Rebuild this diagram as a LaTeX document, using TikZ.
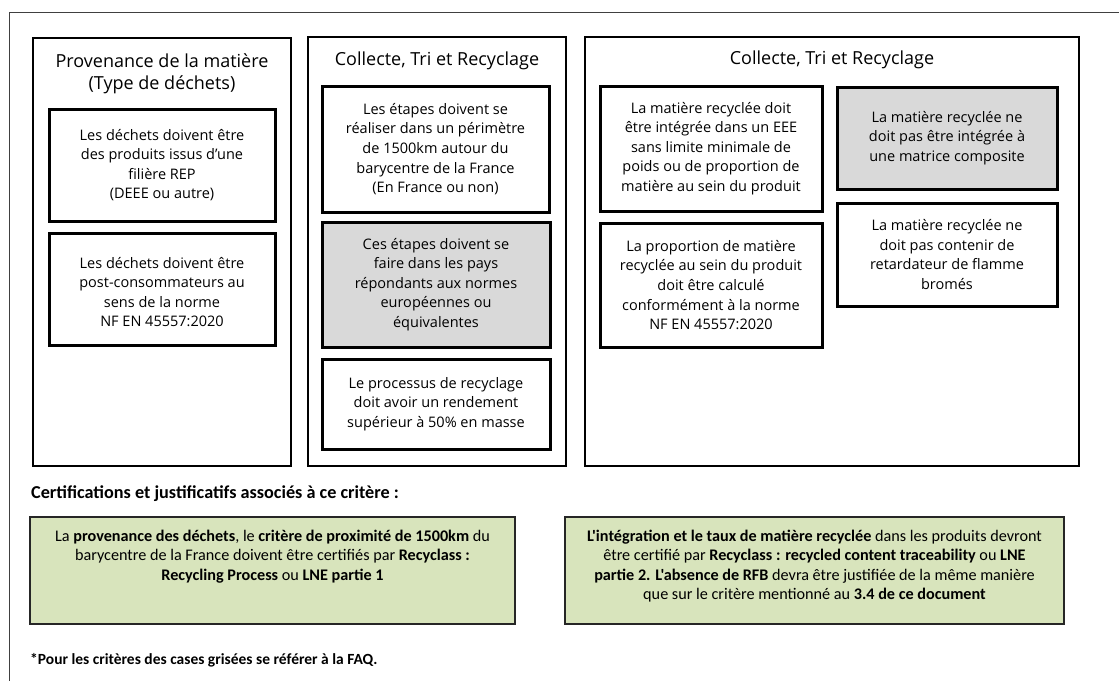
\documentclass[tikz,border=0pt]{standalone}
\usepackage{fontspec}
\setmainfont{Open Sans}
\newfontfamily\calib{Carlito}
\definecolor{boxgray}{HTML}{D9D9D9}
\definecolor{boxgreen}{HTML}{D8E4BC}
\definecolor{framegray}{HTML}{404040}
\begin{document}
\begin{tikzpicture}[x=1pt,y=-1pt,
  colbox/.style={draw=black,line width=2.6pt,rectangle,inner sep=0pt},
  critbox/.style={draw=black,line width=3pt,rectangle,inner sep=0pt},
  graybox/.style={critbox,fill=boxgray},
  greenbox/.style={draw=black!85,line width=2.8pt,rectangle,inner sep=0pt,fill=boxgreen},
  crittext/.style={align=center,inner sep=0pt,font=\fontsize{14.5}{19.6}\selectfont},
  coltitle/.style={align=center,inner sep=0pt,font=\fontsize{18}{22}\selectfont},
  greentext/.style={align=center,inner sep=0pt,anchor=north,font=\calib\fontsize{16.2}{19.3}\selectfont},
  heading/.style={anchor=west,inner sep=0pt,font=\calib\bfseries\fontsize{18.2}{20}\selectfont},
  footnote/.style={anchor=west,inner sep=0pt,font=\calib\bfseries\fontsize{15.5}{18}\selectfont}
]
\useasboundingbox (0,0) rectangle (1119,681);
% outer frame (partial)
\coordinate (fTL) at (9,12);
\coordinate (fTR) at (1119,12);
\coordinate (fBL) at (9,681);
\draw[framegray,line width=1pt] (fTR) -- (fTL) -- (fBL);

% Column 1
\node[colbox,minimum width=258,minimum height=428] (col1) at (162,252) {};
\node[coltitle] (col1t) at (162,74) {Provenance de la matière\\(Type de déchets)};
\node[critbox,minimum width=226,minimum height=112] (c1a) at (162,165) {};
\node[crittext] (c1at) at (c1a) {Les déchets doivent être\\des produits issus d'une\\filière REP\\(DEEE ou autre)};
\node[critbox,minimum width=226,minimum height=112] (c1b) at (162,289) {};
\node[crittext] (c1bt) at (162,292) {Les déchets doivent être\\post-consommateurs au\\sens de la norme\\NF EN 45557:2020};

% Column 2
\node[colbox,minimum width=258,minimum height=429] (col2) at (437,251.5) {};
\node[coltitle] (col2t) at (437,61) {Collecte, Tri et Recyclage};
\node[critbox,minimum width=227,minimum height=126] (c2a) at (435.5,149) {};
\node[crittext] (c2at) at (c2a) {Les étapes doivent se\\réaliser dans un périmètre\\de 1500km autour du\\barycentre de la France\\(En France ou non)};
\node[graybox,minimum width=228,minimum height=125] (c2b) at (436,284.5) {};
\node[crittext] (c2bt) at (c2b) {Ces étapes doivent se\\faire dans les pays\\répondants aux normes\\européennes ou\\équivalentes};
\node[critbox,minimum width=228,minimum height=90] (c2c) at (436,404) {};
\node[crittext] (c2ct) at (c2c) {Le processus de recyclage\\doit avoir un rendement\\supérieur à 50\% en masse};

% Column 3
\node[colbox,minimum width=494,minimum height=429] (col3) at (832,251.5) {};
\node[coltitle] (col3t) at (832,60) {Collecte, Tri et Recyclage};
\node[critbox,minimum width=222,minimum height=125] (c3a) at (711,148.5) {};
\node[crittext] (c3at) at (c3a) {La matière recyclée doit\\être intégrée dans un EEE\\sans limite minimale de\\poids ou de proportion de\\matière au sein du produit};
\node[critbox,minimum width=222,minimum height=124] (c3b) at (711,285) {};
\node[crittext] (c3bt) at (c3b) {La proportion de matière\\recyclée au sein du produit\\doit être calculé\\conformément à la norme\\NF EN 45557:2020};
\node[graybox,minimum width=220,minimum height=102] (c3c) at (947,138) {};
\node[crittext] (c3ct) at (c3c) {La matière recyclée ne\\doit pas être intégrée à\\une matrice composite};
\node[critbox,minimum width=220,minimum height=103] (c3d) at (947,254.5) {};
\node[crittext] (c3dt) at (c3d) {La matière recyclée ne\\doit pas contenir de\\retardateur de flamme\\bromés};

% Certifications
\node[heading] (cert) at (31,494) {Certifications et justificatifs associés à ce critère :};
\node[greenbox,minimum width=485,minimum height=107] (g1) at (272.5,570.5) {};
\node[greentext] (g1t) at (272.5,530) {La \textbf{provenance des déchets}, le \textbf{critère de proximité de 1500km} du\\barycentre de la France doivent être certifiés par \textbf{Recyclass :}\\\textbf{Recycling Process} ou \textbf{LNE partie 1}};
\node[greenbox,minimum width=499,minimum height=107] (g2) at (814.5,570.5) {};
\node[greentext] (g2t) at (814.5,530) {\textbf{L'intégration et le taux de matière recyclée} dans les produits devront\\être certifié par \textbf{Recyclass : recycled content traceability} ou \textbf{LNE}\\\textbf{partie 2. L'absence de RFB} devra être justifiée de la même manière\\que sur le critère mentionné au \textbf{3.4 de ce document}};

\node[footnote] (faq) at (30,660) {*Pour les critères des cases grisées se référer à la FAQ.};
\end{tikzpicture}
\end{document}
